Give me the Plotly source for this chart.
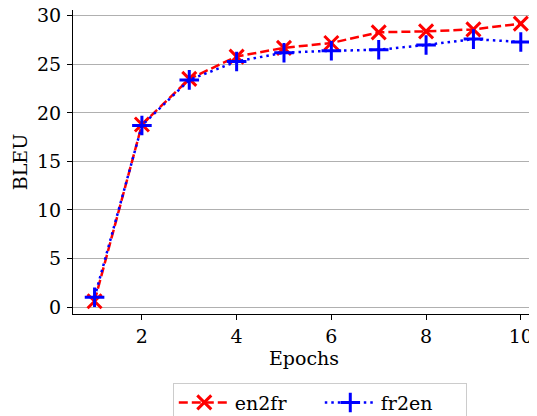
import plotly.graph_objects as go

epochs = [1, 2, 3, 4, 5, 6, 7, 8, 9, 10]
en2fr = [0.6, 18.8, 23.5, 25.8, 26.7, 27.2, 28.3, 28.4, 28.6, 29.2]
fr2en = [1.0, 18.7, 23.4, 25.3, 26.2, 26.4, 26.5, 27.0, 27.6, 27.3]
x_ticks = [2, 4, 6, 8, 10]
y_ticks = [0, 5, 10, 15, 20, 25, 30]

FONT = "'DejaVu Serif', serif"
FS = 19

fig = go.Figure()
fig.add_trace(go.Scatter(
    x=epochs, y=en2fr, name="en2fr", mode="lines+markers",
    line=dict(color="red", width=2.5, dash="9px,4px"),
    marker=dict(symbol="x-thin", size=14, color="red",
                line=dict(color="red", width=3)),
))
fig.add_trace(go.Scatter(
    x=epochs, y=fr2en, name="fr2en", mode="lines+markers",
    line=dict(color="blue", width=2.5, dash="2.5px,4px"),
    marker=dict(symbol="cross-thin", size=14, color="blue",
                line=dict(color="blue", width=3)),
))

# the page adds an 8px body margin, so the figure is offset by 8px
fig.update_layout(
    width=529, height=408,
    margin=dict(l=65, r=2, t=2, b=102),
    paper_bgcolor="white", plot_bgcolor="white",
    font=dict(family=FONT, size=FS, color="black"),
    showlegend=True,
    legend=dict(orientation="h", xref="container", yref="container",
                x=0.3115, xanchor="left", y=0.0819, yanchor="top",
                bordercolor="#cccccc", borderwidth=1,
                font=dict(family=FONT, size=FS),
                itemwidth=51,
                entrywidth=80, entrywidthmode="pixels",
                tracegroupgap=0),
    xaxis=dict(range=[0.545, 10.3], tickvals=x_ticks, showgrid=False,
               showline=True, linecolor="black", linewidth=1,
               ticks="outside", ticklen=5, tickcolor="black",
               tickfont=dict(family=FONT, size=FS), ticklabelstandoff=0,
               ticklabeloverflow="allow",
               title=dict(text="Epochs", font=dict(family=FONT, size=FS), standoff=2),
               automargin=False, zeroline=False),
    yaxis=dict(range=[-0.72, 30.6], tickvals=y_ticks, showgrid=True,
               gridcolor="#b0b0b0", gridwidth=1,
               showline=True, linecolor="black", linewidth=1,
               ticks="outside", ticklen=5, tickcolor="black",
               tickfont=dict(family=FONT, size=FS), ticklabelstandoff=2,
               ticklabeloverflow="allow",
               title=dict(text="BLEU", font=dict(family=FONT, size=FS), standoff=4),
               automargin=False, zeroline=False),
)

fig.write_html("out.html")
